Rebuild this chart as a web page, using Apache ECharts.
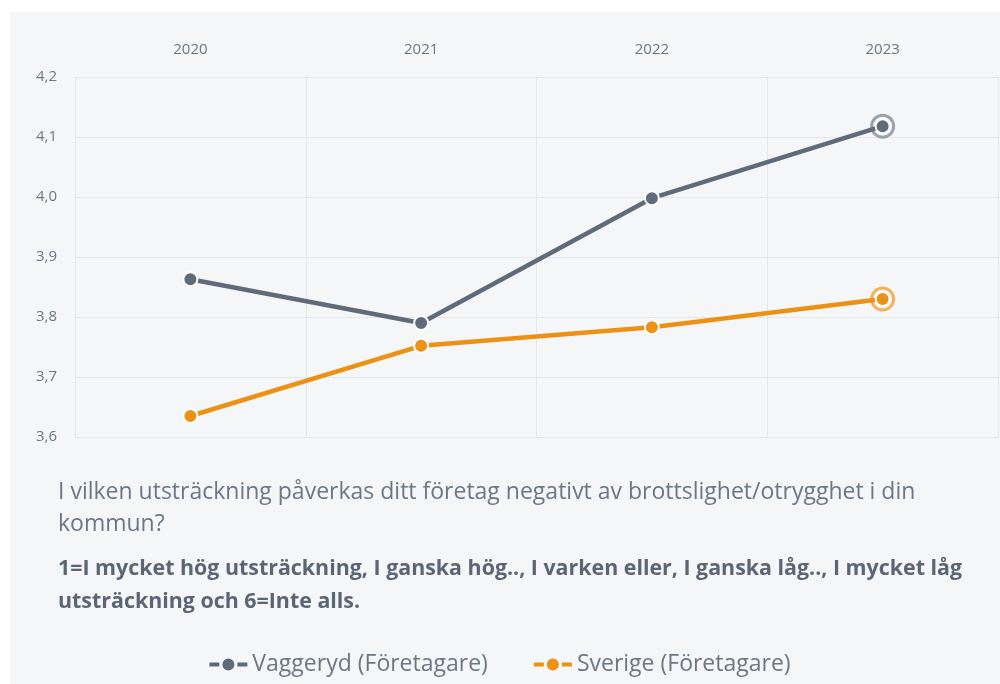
<!DOCTYPE html>
<html>
<head>
<meta charset="utf-8">
<script src="https://cdn.jsdelivr.net/npm/echarts@6/dist/echarts.min.js"></script>
<style>
  html, body { margin: 0; padding: 0; background: #ffffff; }
  #panel { position: absolute; left: 10px; top: 12px; width: 990px; height: 672px; background: #f5f6f8; }
  #chart { position: absolute; left: 0; top: 0; width: 1000px; height: 684px; }
</style>
</head>
<body>
<div id="panel"></div>
<div id="chart"></div>
<script>
const years = ['2020', '2021', '2022', '2023'];
const vaggeryd = [3.863, 3.79, 3.998, 4.118];
const sverige = [3.635, 3.752, 3.783, 3.83];
const yTicks = { min: 3.6, max: 4.2, interval: 0.1 };
const seriesNames = ['Vaggeryd (Företagare)', 'Sverige (Företagare)'];
const question = 'I vilken utsträckning påverkas ditt företag negativt av brottslighet/otrygghet i din\nkommun?';
const scale = '1=I mycket hög utsträckning, I ganska hög.., I varken eller, I ganska låg.., I mycket låg\nutsträckning och 6=Inte alls.';

const FONT = '"Open Sans", Lato, sans-serif';
const colors = ['#5f6b7a', '#ec9113'];
const rings = ['#9aa3ad', '#f2b25a'];
// dash – dot – dash legend marker
const legendIcon = 'path://M0,5H10V9H0Z M19,1A6,6 0 1 1 18.99,1Z M28,5H38V9H28Z';

function lineSeries(name, values, i) {
  return {
    name: name,
    type: 'line',
    data: values,
    color: colors[i],
    lineStyle: { width: 4.5, color: colors[i] },
    symbol: 'circle',
    symbolSize: 14,
    itemStyle: { color: colors[i], borderColor: '#ffffff', borderWidth: 2 },
    z: 3 + i
  };
}

// Highlight ring around the most recent value of each series;
// listed first so the legend takes its plain marker from it
function ringSeries(name, values, i) {
  const last = values.length - 1;
  return {
    name: name,
    type: 'scatter',
    data: values.map((v, k) => (k === last ? v : null)),
    symbol: 'circle',
    symbolSize: 22,
    itemStyle: { color: 'transparent', borderColor: rings[i], borderWidth: 3, opacity: 1 },
    silent: true,
    z: 2 + i
  };
}

const chart = echarts.init(document.getElementById('chart'), null, { renderer: 'canvas' });
chart.setOption({
  animation: false,
  textStyle: { fontFamily: FONT },
  grid: { left: 75, right: 2, top: 77, bottom: 247 },
  xAxis: {
    type: 'category',
    position: 'top',
    data: years,
    boundaryGap: true,
    axisLine: { show: false },
    axisTick: { show: false },
    axisLabel: { color: '#6b7785', fontSize: 15, margin: 20, fontFamily: FONT },
    splitLine: { show: true, lineStyle: { color: '#e3e6ea', width: 1 } }
  },
  yAxis: {
    type: 'value',
    min: yTicks.min,
    max: yTicks.max,
    interval: yTicks.interval,
    axisLine: { show: false },
    axisTick: { show: false },
    axisLabel: {
      color: '#6b7785', fontSize: 15, margin: 18, fontFamily: FONT,
      formatter: v => v.toFixed(1).replace('.', ',')
    },
    splitLine: { lineStyle: { color: '#e3e6ea', width: 1 } }
  },
  title: [
    {
      text: question,
      left: 53, top: 471,
      textStyle: { color: '#6b7785', fontSize: 23, fontWeight: 'normal', lineHeight: 32, fontFamily: FONT }
    },
    {
      text: scale,
      left: 53, top: 547,
      textStyle: { color: '#5a6675', fontSize: 21.4, fontWeight: 'bold', lineHeight: 33, fontFamily: FONT }
    }
  ],
  legend: {
    data: seriesNames.map((n, i) => ({
      name: n,
      icon: legendIcon,
      itemStyle: { color: colors[i], borderWidth: 0, opacity: 1 }
    })),
    bottom: 3,
    left: 'center',
    itemWidth: 38,
    itemHeight: 14,
    itemGap: 46,
    textStyle: { color: '#6b7785', fontSize: 23, fontFamily: FONT }
  },
  series: [
    ringSeries(seriesNames[0], vaggeryd, 0),
    ringSeries(seriesNames[1], sverige, 1),
    lineSeries(seriesNames[0], vaggeryd, 0),
    lineSeries(seriesNames[1], sverige, 1)
  ]
});
</script>
</body>
</html>
